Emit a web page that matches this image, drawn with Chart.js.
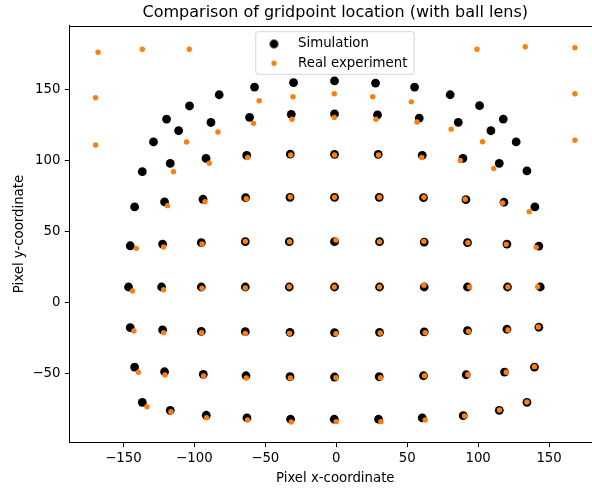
<!DOCTYPE html>
<html>
<head>
<meta charset="utf-8">
<script src="https://cdn.jsdelivr.net/npm/chart.js@4.4.1/dist/chart.umd.min.js"></script>
<style>
  html, body { margin: 0; padding: 0; background: #fff; overflow: hidden; }
  #grafico { display: block; width: 601px; height: 488px; }
</style>
</head>
<body>
<canvas id="grafico" width="601" height="488"></canvas>
<script>
// simulated grid points, one line per grid row (top to bottom)
const simX = [
  -119.6, -103.4, -82.5, -57.6, -30.1, -1.2, 27.7, 55.2, 80.3, 101.0, 117.7,
  -128.8, -111.1, -88.3, -61.1, -31.7, -1.2, 29.1, 58.5, 86.0, 109.0, 126.8,
  -136.7, -117.0, -91.8, -63.1, -32.4, -1.2, 29.6, 60.6, 89.3, 114.9, 134.4,
  -142.1, -121.0, -93.9, -63.9, -32.6, -1.2, 30.3, 61.5, 91.4, 118.2, 140.0,
  -145.2, -122.4, -95.1, -64.1, -33.1, -1.2, 30.5, 62.0, 92.5, 120.3, 142.8,
  -146.4, -123.1, -95.1, -64.1, -33.1, -1.2, 30.5, 62.0, 92.5, 120.7, 143.8,
  -145.2, -122.4, -95.1, -64.1, -32.6, -1.2, 30.5, 62.0, 92.5, 120.3, 142.8,
  -142.1, -121.0, -93.7, -63.6, -32.6, -1.2, 30.3, 61.5, 91.6, 118.6, 139.7,
  -136.7, -117.0, -91.6, -62.9, -32.2, -1.4, 29.8, 60.6, 89.5, 114.9, 134.4
];
const simY = [
  129.0, 138.2, 146.1, 151.5, 154.6, 155.8, 154.3, 151.5, 146.1, 138.4, 129.0,
  112.9, 120.8, 126.6, 130.2, 132.3, 132.6, 131.9, 129.7, 126.7, 120.8, 112.9,
  92.0, 97.8, 101.3, 103.4, 104.4, 104.2, 104.2, 103.5, 101.3, 97.9, 92.5,
  67.2, 70.7, 72.6, 73.7, 74.0, 74.0, 74.0, 73.7, 72.3, 70.5, 67.2,
  39.9, 41.1, 42.1, 42.8, 42.8, 42.8, 42.8, 42.5, 42.1, 41.1, 39.7,
  10.9, 10.9, 10.9, 10.9, 10.9, 10.9, 10.9, 10.9, 10.9, 10.9, 10.9,
  -17.7, -19.3, -20.3, -20.5, -21.0, -21.2, -21.0, -20.7, -19.8, -18.8, -17.4,
  -45.4, -48.7, -50.5, -51.5, -52.2, -52.4, -52.2, -51.5, -50.8, -48.9, -45.4,
  -70.2, -75.8, -79.3, -81.2, -82.1, -82.1, -82.1, -81.2, -79.6, -75.8, -70.2
];

// detected points from the camera
const expX = [
  -167.9, -136.7, -103.6, 99.2, 133.2, 168.2, -169.6, 168.2, -169.6, 168.2,
  -54.3, -30.5, -1.4, 25.7, 52.9,
  -105.5, -83.4, -58.3, -31.2, -1.4, 28.0, 56.9, 81.0, 103.1,
  -114.7, -89.5, -62.4, -32.1, -1.2, 29.8, 60.3, 87.4, 111.0,
  -118.9, -92.5, -63.4, -32.4, -1.2, 30.5, 61.8, 90.9, 117.2, 136.0,
  -140.9, -121.7, -94.6, -64.1, -32.9, -0.2, 30.5, 61.8, 92.8, 119.8, 140.9,
  -143.6, -121.7, -94.6, -64.1, -33.1, -1.4, 30.5, 61.8, 93.9, 121.0, 141.9,
  -142.6, -121.7, -94.9, -64.1, -32.9, -0.2, 31.0, 62.7, 93.2, 121.0, 142.4,
  -139.5, -120.7, -93.5, -63.4, -32.4, -0.2, 31.2, 62.2, 92.8, 119.8, 139.7,
  -133.4, -116.5, -91.4, -62.5, -31.7, 0.0, 31.5, 62.7, 90.4, 115.1, 134.4
];
const expY = [
  176.0, 178.1, 178.1, 178.1, 179.9, 179.2, 144.0, 146.8, 110.8, 114.1,
  141.9, 144.7, 146.8, 144.7, 141.1,
  112.9, 119.9, 126.0, 128.9, 130.1, 128.9, 126.9, 121.9, 113.0,
  92.0, 97.9, 102.0, 103.7, 103.7, 103.7, 102.0, 99.9, 94.2,
  68.1, 70.9, 73.0, 74.2, 74.0, 74.0, 74.0, 72.6, 70.0, 63.9,
  38.1, 39.0, 41.1, 43.0, 42.8, 44.0, 42.8, 43.0, 42.1, 40.9, 38.8,
  8.1, 9.0, 10.0, 10.2, 11.1, 10.9, 10.9, 12.1, 10.9, 10.9, 11.1,
  -20.0, -21.2, -21.2, -21.7, -21.7, -21.9, -21.4, -21.2, -20.3, -19.3, -17.2,
  -49.1, -51.0, -51.7, -53.1, -53.1, -52.9, -52.9, -51.5, -50.8, -49.1, -45.1,
  -73.3, -76.8, -81.0, -82.6, -84.0, -83.8, -83.8, -82.6, -79.8, -75.6, -70.0
];

const xTicks = [-150, -100, -50, 0, 50, 100, 150];
const yTicks = [-50, 0, 50, 100, 150];

const pares = (xs, ys) => xs.map((x, i) => ({x: x, y: ys[i]}));
const menos = (v) => v < 0 ? '\u2212' + Math.abs(v) : String(v);

// small round images for the legend, sized like the plotted markers
const marca = (radio, color) => {
  const c = document.createElement('canvas');
  const lado = Math.ceil(radio * 2) + 2;
  c.width = lado;
  c.height = lado;
  const g = c.getContext('2d');
  g.fillStyle = color;
  g.beginPath();
  g.arc(lado / 2, lado / 2, radio, 0, Math.PI * 2);
  g.fill();
  return c;
};

const naranja = '#ff7f0e';
const iconos = [marca(4.4, '#000000'), marca(2.7, naranja)];

// legend box centred at the top of the plot, plus the top spine
const marco = {
  id: 'marco',
  afterLayout(chart) {
    const a = chart.chartArea;
    const cx = (a.left + a.right) / 2;
    chart.legend.left = cx - 84.8;
    chart.legend.top = a.top + 5.85;
  },
  beforeDraw(chart) {
    const a = chart.chartArea;
    const cx = (a.left + a.right) / 2;
    const ctx = chart.ctx;
    const x0 = cx - 79.5, x1 = cx + 79, y0 = a.top + 6.2, y1 = a.top + 48.8;
    ctx.save();
    ctx.beginPath();
    ctx.roundRect(x0, y0, x1 - x0, y1 - y0, 2.5);
    ctx.fillStyle = 'rgba(255,255,255,0.8)';
    ctx.fill();
    ctx.strokeStyle = 'rgba(204,204,204,0.8)';
    ctx.lineWidth = 1;
    ctx.stroke();
    ctx.restore();
  },
  afterDraw(chart) {
    const a = chart.chartArea;
    const ctx = chart.ctx;
    ctx.save();
    ctx.strokeStyle = '#000';
    ctx.lineWidth = 1;
    ctx.beginPath();
    ctx.moveTo(a.left, Math.round(a.top) + 0.5);
    ctx.lineTo(a.right, Math.round(a.top) + 0.5);
    ctx.stroke();
    ctx.restore();
  }
};

Chart.defaults.font.family = "'DejaVu Sans', sans-serif";
Chart.defaults.color = '#000';

const config = {
  type: 'scatter',
  data: {
    datasets: [
      {
        label: 'Simulation',
        data: pares(simX, simY),
        backgroundColor: '#000000',
        pointRadius: 4.4,
        pointHoverRadius: 4.4,
        pointBorderWidth: 0,
        order: 1
      },
      {
        label: 'Real experiment',
        data: pares(expX, expY),
        backgroundColor: naranja,
        pointRadius: 2.7,
        pointHoverRadius: 2.7,
        pointBorderWidth: 0,
        order: 0
      }
    ]
  },
  options: {
    responsive: false,
    animation: false,
    layout: { padding: 0, autoPadding: false },
    plugins: {
      title: {
        display: true,
        text: 'Comparison of gridpoint location (with ball lens)',
        fullSize: false,
        color: '#000',
        font: { size: 16, weight: 'normal' },
        padding: { top: 3, bottom: 3.3 }
      },
      legend: {
        position: 'chartArea',
        align: 'start',
        labels: {
          usePointStyle: true,
          pointStyleWidth: 35,
          padding: 6,
          color: '#000',
          font: { size: 13.3 },
          generateLabels: (chart) => {
            const items = Chart.defaults.plugins.legend.labels.generateLabels(chart);
            items.sort((a, b) => a.datasetIndex - b.datasetIndex);
            return items.map((it) => ({ ...it, pointStyle: iconos[it.datasetIndex] }));
          }
        }
      },
      tooltip: { enabled: false }
    },
    scales: {
      x: {
        type: 'linear',
        min: -188,
        max: 186.6,
        afterBuildTicks: (s) => { s.ticks = xTicks.map((v) => ({ value: v })); },
        afterFit: (s) => { s.height = 45.5; },
        ticks: { callback: menos, font: { size: 13.3 }, padding: 3.5, maxRotation: 0, includeBounds: false },
        grid: { display: true, drawOnChartArea: false, drawTicks: true, tickLength: 4.7, tickColor: '#000' },
        border: { display: true, color: '#000', width: 1 },
        title: { display: true, text: 'Pixel x-coordinate', font: { size: 13.3 }, padding: { top: 0, bottom: 1.5 } }
      },
      y: {
        type: 'linear',
        min: -98.45,
        max: 194.8,
        afterBuildTicks: (s) => { s.ticks = yTicks.map((v) => ({ value: v })); },
        afterFit: (s) => { s.width = 69.5; },
        ticks: { callback: menos, font: { size: 13.3 }, padding: 4.3, includeBounds: false },
        grid: { display: true, drawOnChartArea: false, drawTicks: true, tickLength: 4.7, tickColor: '#000' },
        border: { display: true, color: '#000', width: 1 },
        title: { display: true, text: 'Pixel y-coordinate', font: { size: 13.3 }, padding: { top: 11.5, bottom: 0 } }
      }
    }
  },
  plugins: [marco]
};

const grafico = new Chart(document.getElementById('grafico'), config);
</script>
</body>
</html>
